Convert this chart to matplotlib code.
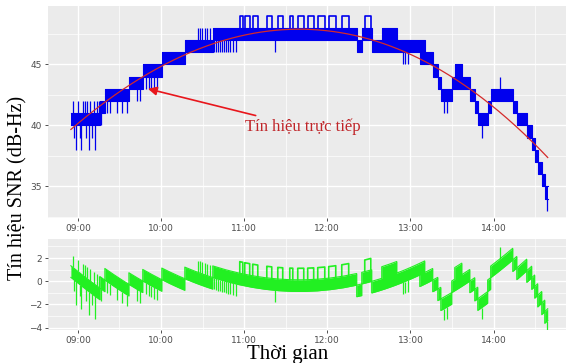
import numpy as np
import matplotlib
matplotlib.use("Agg")
import matplotlib.pyplot as plt
from matplotlib.ticker import MultipleLocator, FuncFormatter

# SNR (dB-Hz) flicker bands: from each start time the value jumps between low and high
seg_start = ["08:55:00", "09:16:00", "09:19:30", "09:36:50", "09:46:50", "10:00:35",
             "10:17:10", "10:37:20", "12:21:10", "12:24:50", "12:32:00", "12:39:15",
             "12:50:05", "13:06:40", "13:10:15", "13:16:00", "13:19:40", "13:21:50",
             "13:29:45", "13:31:55", "13:37:00", "13:42:45", "13:46:20", "13:48:30",
             "13:55:40", "13:57:50", "14:13:45", "14:16:40", "14:23:50", "14:27:25",
             "14:29:35", "14:31:45", "14:34:40", "14:36:50"]
seg_stop = "14:39:00"
seg_low = [40, 41, 42, 43, 44, 45, 46, 47, 46, 47, 46, 46, 46, 45, 45, 44, 43,
           42, 43, 43, 43, 42, 41, 40, 41, 42, 41, 40, 39, 38, 37, 36, 35, 34]
seg_high = [41, 42, 43, 44, 45, 46, 47, 48, 47, 48, 47, 48, 47, 47, 46, 45, 44,
            43, 44, 45, 44, 43, 42, 41, 42, 43, 42, 41, 40, 39, 38, 37, 36, 35]

# single outlying samples
spike_time = ["08:56:25", "08:57:05", "08:58:35", "09:00:00", "09:01:25", "09:02:10",
              "09:03:35", "09:05:05", "09:05:45", "09:06:30", "09:07:55", "09:08:40",
              "09:10:05", "09:11:30", "09:12:15", "09:13:40", "09:15:10", "09:17:00",
              "09:20:55", "09:23:05", "09:28:10", "09:31:45", "09:35:20", "09:42:35",
              "09:44:45", "09:49:00", "09:51:10", "09:52:40", "09:54:50", "09:57:00",
              "10:26:30", "10:28:00", "10:29:25", "10:31:35", "10:33:00", "10:35:10",
              "10:38:05", "10:39:30", "10:41:00", "10:42:25", "10:43:50", "10:45:20",
              "10:46:45", "10:48:10", "10:49:40", "10:51:50", "10:54:00", "11:22:05",
              "12:54:25", "12:55:50", "12:58:00", "13:24:00", "13:26:05", "13:51:25",
              "14:04:25", "14:38:15"]
spike_value = [42, 39, 38, 42, 39, 38, 42, 42, 39, 42, 38, 42, 39, 42, 38, 42, 42, 40,
               41, 41, 41, 41, 41, 42, 42, 43, 43, 43, 43, 43,
               48, 48, 48, 48, 48, 48,
               46, 46, 46, 46, 46, 46, 46, 46, 46, 46, 46, 46,
               45, 45, 45, 41, 41, 39, 44, 33]

# short stretches at 49 dB-Hz around noon
peak_start = ["10:56:50", "11:00:25", "11:06:10", "11:16:20", "11:24:15", "11:32:55",
              "11:38:40", "11:45:50", "11:53:05", "12:01:00", "12:10:25", "12:27:00"]
peak_stop = ["10:59:00", "11:04:00", "11:09:50", "11:19:55", "11:27:50", "11:35:05",
             "11:43:00", "11:50:10", "11:58:10", "12:06:05", "12:15:25", "12:31:20"]
peak_value = 49


def hours(s):
    h, m, sec = [int(p) for p in s.split(":")]
    return h + m / 60 + sec / 3600


edges = np.array([hours(s) for s in seg_start] + [hours(seg_stop)])
low = np.array(seg_low, dtype=float)
high = np.array(seg_high, dtype=float)
sp_t = np.array([hours(s) for s in spike_time])
sp_v = np.array(spike_value, dtype=float)
pk_a = np.array([hours(s) for s in peak_start])
pk_b = np.array([hours(s) for s in peak_stop])


def band_at(t):
    i = np.clip(np.searchsorted(edges, t, side="right") - 1, 0, len(low) - 1)
    return low[i], high[i]


# trend: cubic least-squares fit to the band centre, sampled every 6 s
grid = np.arange(edges[0], edges[-1], 1 / 600)
lo_g, hi_g = band_at(grid)
coef = np.polyfit(grid, (lo_g + hi_g) / 2, 3)
trend = np.poly1d(coef)

BLUE = "#0000ee"
GREEN = "#22f022"
RED = "#d42a2a"

fig = plt.figure(figsize=(5.7, 3.63), dpi=100)
ax1 = fig.add_axes([0.084, 0.399, 0.909, 0.585])
ax2 = fig.add_axes([0.084, 0.091, 0.909, 0.251])

# top panel
lo_e = np.append(low, low[-1])
hi_e = np.append(high, high[-1])
ax1.fill_between(edges, lo_e, hi_e, step="post", color=BLUE, lw=0, zorder=3)
ax1.step(edges, lo_e, where="post", color=BLUE, lw=0.8, zorder=3)
ax1.step(edges, hi_e, where="post", color=BLUE, lw=0.8, zorder=3)
b_lo, b_hi = band_at(sp_t)
ax1.vlines(sp_t, np.where(sp_v > b_hi, b_hi, sp_v), np.where(sp_v > b_hi, sp_v, b_lo),
           color=BLUE, lw=0.9, zorder=3)
for a, b in zip(pk_a, pk_b):
    ax1.plot([a, a, b, b], [peak_value - 1, peak_value, peak_value, peak_value - 1],
             color=BLUE, lw=1.2, zorder=3)
tt = np.linspace(edges[0], edges[-1], 400)
ax1.plot(tt, trend(tt), color=RED, lw=0.9, zorder=4)
ax1.annotate("Tín hiệu trực tiếp", xy=(9.843, 43.0), xytext=(11.705, 39.85),
             color="#c0262a", fontsize=12, family="Liberation Serif",
             ha="center", va="center",
             arrowprops=dict(arrowstyle="-|>", color="#e8161c", lw=1.2,
                             mutation_scale=13, shrinkA=2, shrinkB=0))
ax1.set_ylim(32.4, 49.8)
ax1.yaxis.set_major_locator(MultipleLocator(5))
ax1.yaxis.set_minor_locator(MultipleLocator(2.5))

# bottom panel: residual from the trend
xs, ylo, yhi = [], [], []
for i in range(len(low)):
    seg_t = np.linspace(edges[i], edges[i + 1], 12)
    xs.append(seg_t)
    ylo.append(low[i] - trend(seg_t))
    yhi.append(high[i] - trend(seg_t))
xs = np.concatenate(xs)
ylo = np.concatenate(ylo)
yhi = np.concatenate(yhi)
ax2.fill_between(xs, ylo, yhi, color=GREEN, lw=0, zorder=3)
ax2.plot(xs, ylo, color=GREEN, lw=0.8, zorder=3)
ax2.plot(xs, yhi, color=GREEN, lw=0.8, zorder=3)
tr = trend(sp_t)
ax2.vlines(sp_t, np.where(sp_v > b_hi, b_hi, sp_v) - tr, np.where(sp_v > b_hi, sp_v, b_lo) - tr,
           color=GREEN, lw=0.9, zorder=3)
for a, b in zip(pk_a, pk_b):
    pt = np.linspace(a, b, 6)
    ax2.plot(np.r_[a, pt, b], np.r_[peak_value - 1 - trend(a), peak_value - trend(pt),
                                     peak_value - 1 - trend(b)],
             color=GREEN, lw=1.2, zorder=3)
ax2.set_ylim(-4.2, 3.65)
ax2.yaxis.set_major_locator(MultipleLocator(2))
ax2.yaxis.set_minor_locator(MultipleLocator(1))

fmt = FuncFormatter(lambda h, _: "%02d:%02d" % (int(h), int(round((h % 1) * 60))))
for ax in (ax1, ax2):
    ax.set_xlim(8.64, 14.87)
    ax.xaxis.set_major_locator(MultipleLocator(1))
    ax.xaxis.set_minor_locator(MultipleLocator(0.5))
    ax.xaxis.set_major_formatter(fmt)
    ax.set_facecolor("#ebebeb")
    ax.grid(which="major", color="white", lw=1.0, zorder=0)
    ax.grid(which="minor", color="white", lw=0.5, zorder=0)
    ax.set_axisbelow(True)
    for sp in ax.spines.values():
        sp.set_visible(False)
    ax.tick_params(which="major", labelsize=6.5, labelcolor="#4d4d4d", color="#333333",
                   length=2.2, width=0.6, pad=2)
    ax.tick_params(which="minor", length=0)

fig.text(0.032, 0.482, "Tín hiệu SNR (dB-Hz)", rotation=90, ha="center", va="center",
         fontsize=14.5, family="Liberation Serif")
fig.text(0.504, 0.011, "Thời gian", ha="center", va="baseline",
         fontsize=15, family="Liberation Serif")

fig.savefig("out.png", dpi=100)
